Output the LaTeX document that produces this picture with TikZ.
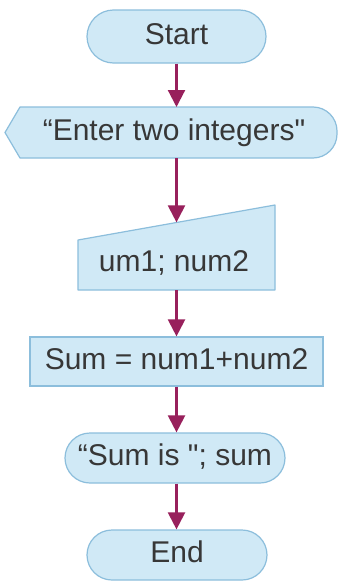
\documentclass[tikz,border=0pt]{standalone}
\usepackage{fontspec}
\setmainfont{Liberation Sans}[Ligatures=TeXOff]
\usetikzlibrary{shapes.misc,arrows.meta}
\definecolor{boxfill}{RGB}{208,233,246}
\definecolor{boxline}{RGB}{140,190,220}
\definecolor{arrowc}{RGB}{152,32,92}
\definecolor{txt}{RGB}{55,55,55}
\begin{document}
\begin{tikzpicture}[x=1pt,y=-1pt,
  lbl/.style={inner sep=0pt, text=txt, font=\fontsize{30}{32}\selectfont, text height=21.5pt, text depth=6.3pt},
  term/.style={lbl, rounded rectangle, draw=boxline, fill=boxfill, line width=1.2pt},
  procbox/.style={lbl, rectangle, draw=boxline, fill=boxfill, line width=1.2pt},
  shapeline/.style={draw=boxline, fill=boxfill, line width=1.2pt, line join=round},
  arr/.style={draw=arrowc, line width=2.2pt, -{Triangle[width=17pt,length=17pt]}}
]
\useasboundingbox (0,0) rectangle (339,581);
\fill[white] (0,0) rectangle (339,581);

% Start
\node[term, minimum width=179pt, minimum height=53pt] (start) at (176.5,36.5) {Start};

% Display shape
\path[shapeline] (5,132.5) -- (20,107) {[rounded corners=24pt] -- (337,107) -- (337,158)} -- (20,158) -- cycle;
\node[lbl] (disp) at (174,132.5) {“Enter two integers"};
\coordinate (disptop) at (176.5,107);
\coordinate (dispbot) at (176.5,158);

% Manual input
\path[shapeline] (78,240) -- (275,205) -- (275,290) -- (78,290) -- cycle;
\node[lbl] (inp) at (174,264) {um1; num2};
\coordinate (inptop) at (176.5,222.4);
\coordinate (inpbot) at (176.5,290);

% Process
\node[procbox, minimum width=293pt, minimum height=49pt] (sum) at (176.5,361.5) {Sum = num1+num2};

% Output
\node[term, minimum width=220pt, minimum height=50pt] (out) at (175,458) {“Sum is "; sum};

% End
\node[term, minimum width=180pt, minimum height=50pt] (end) at (177,555) {End};

% Connectors
\draw[arr] (start.south) -- (disptop);
\draw[arr] (dispbot) -- (inptop);
\draw[arr] (inpbot) -- (sum.north -| inpbot);
\draw[arr] (sum.south -| inpbot) -- (out.north -| inpbot);
\draw[arr] (out.south -| inpbot) -- (end.north -| inpbot);
\end{tikzpicture}
\end{document}
